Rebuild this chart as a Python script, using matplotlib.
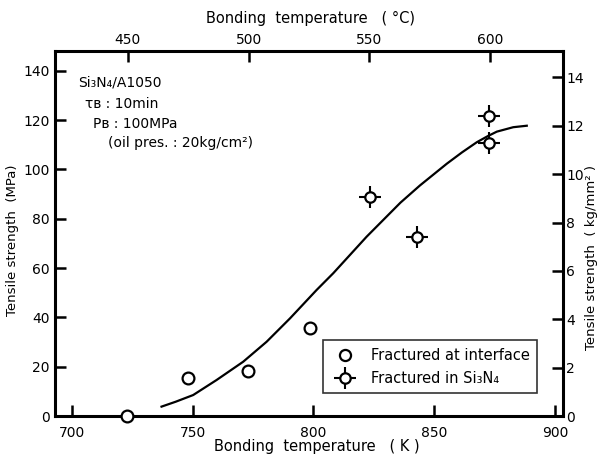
import matplotlib
matplotlib.use("Agg")
import matplotlib.pyplot as plt
import numpy as np

# Data
interface_T = [723, 748, 773, 798.5]
interface_S = [0, 15.3, 18.4, 35.8]
si3n4_T = [823.4, 843, 872.8, 872.8]
si3n4_S = [88.7, 72.5, 121.7, 110.8]
curve_T = [737.1, 743.0, 750.2, 759.9, 770.9, 780.6, 790.3, 801.3, 808.2, 822.0, 836.0,
           844.1, 855.2, 861.5, 867.6, 872.0, 875.9, 882.7, 888.3]
curve_S = [3.8, 5.8, 8.5, 14.6, 22.0, 30.1, 39.6, 51.1, 57.9, 72.7, 86.5,
           93.5, 102.3, 106.9, 111.0, 113.4, 115.3, 117.1, 117.7]
x_ticks = [700, 750, 800, 850, 900]
y_ticks = [0, 20, 40, 60, 80, 100, 120, 140]
top_ticks = [450, 500, 550, 600]
right_ticks = [0, 2, 4, 6, 8, 10, 12, 14]

plt.rcParams['font.family'] = ['DejaVu Sans']
fig = plt.figure(figsize=(5.99, 4.57), dpi=100)
ax = fig.add_axes([55/599, 1-416/457, (563-55)/599, (416-51)/457])

ax.plot(curve_T, curve_S, color='black', lw=1.6, zorder=2)
ax.plot(interface_T, interface_S, 'o', ms=8.5, mfc='white', mec='black', mew=1.6,
        zorder=4, clip_on=False)
h_plus, = ax.plot(si3n4_T, si3n4_S, '+', ms=16, mec='black', mew=1.5, zorder=3)
h_circ, = ax.plot(si3n4_T, si3n4_S, 'o', ms=7.5, mfc='white', mec='black', mew=1.6, zorder=4)

ax.set_xlim(693, 903.3)
ax.set_ylim(0, 148)
ax.set_xticks(x_ticks)
ax.set_yticks(y_ticks)
for s in ax.spines.values():
    s.set_linewidth(2.2)
ax.tick_params(direction='in', length=8, width=1.8, labelsize=10)
ax.tick_params(axis='x', pad=7)
ax.tick_params(axis='y', pad=4)

secx = ax.secondary_xaxis('top', functions=(lambda k: k - 273.15, lambda c: c + 273.15))
secx.set_xticks(top_ticks)
secx.tick_params(direction='in', length=8, width=1.8, labelsize=10, pad=3)

secy = ax.secondary_yaxis('right', functions=(lambda m: m / 9.80665, lambda k: k * 9.80665))
secy.set_yticks(right_ticks)
secy.tick_params(direction='in', length=8, width=1.8, labelsize=10, pad=2.5)

lfs = 10.5
fig.text(311/599, 1-18/457, 'Bonding  temperature   ( °C)', fontsize=lfs, ha='center', va='center')
fig.text(317/599, 1-447/457, 'Bonding  temperature   ( K )', fontsize=lfs, ha='center', va='center')
fig.text(13/599, 1-240/457, 'Tensile strength  (MPa)', fontsize=9.5, rotation=90,
         ha='center', va='center')
fig.text(591/599, 1-258/457, 'Tensile strength  ( kg/mm² )', fontsize=9.5, rotation=90,
         ha='center', va='center')

fs = 10
fig.text(78/599, 1-82/457, 'Si₃N₄/A1050', fontsize=fs, va='center', ha='left')
fig.text(85/599, 1-104/457, 'τʙ : 10min', fontsize=fs, va='center', ha='left')
fig.text(93/599, 1-124/457, 'Pʙ : 100MPa', fontsize=fs, va='center', ha='left')
fig.text(108/599, 1-143/457, '(oil pres. : 20kg/cm²)', fontsize=fs, va='center', ha='left')

leg_circ, = ax.plot([], [], 'o', ms=8, mfc='white', mec='black', mew=1.6)
leg = ax.legend([leg_circ, (h_plus, h_circ)],
                ['Fractured at interface', 'Fractured in Si₃N₄'],
                loc='lower right', bbox_to_anchor=((537-55)/508, (416-393)/365),
                borderaxespad=0,
                fontsize=10.5, frameon=True, fancybox=False, edgecolor='black',
                borderpad=0.5, handletextpad=0.8, labelspacing=0.55)
leg.get_frame().set_linewidth(1.2)

fig.savefig('out.png', dpi=100)
